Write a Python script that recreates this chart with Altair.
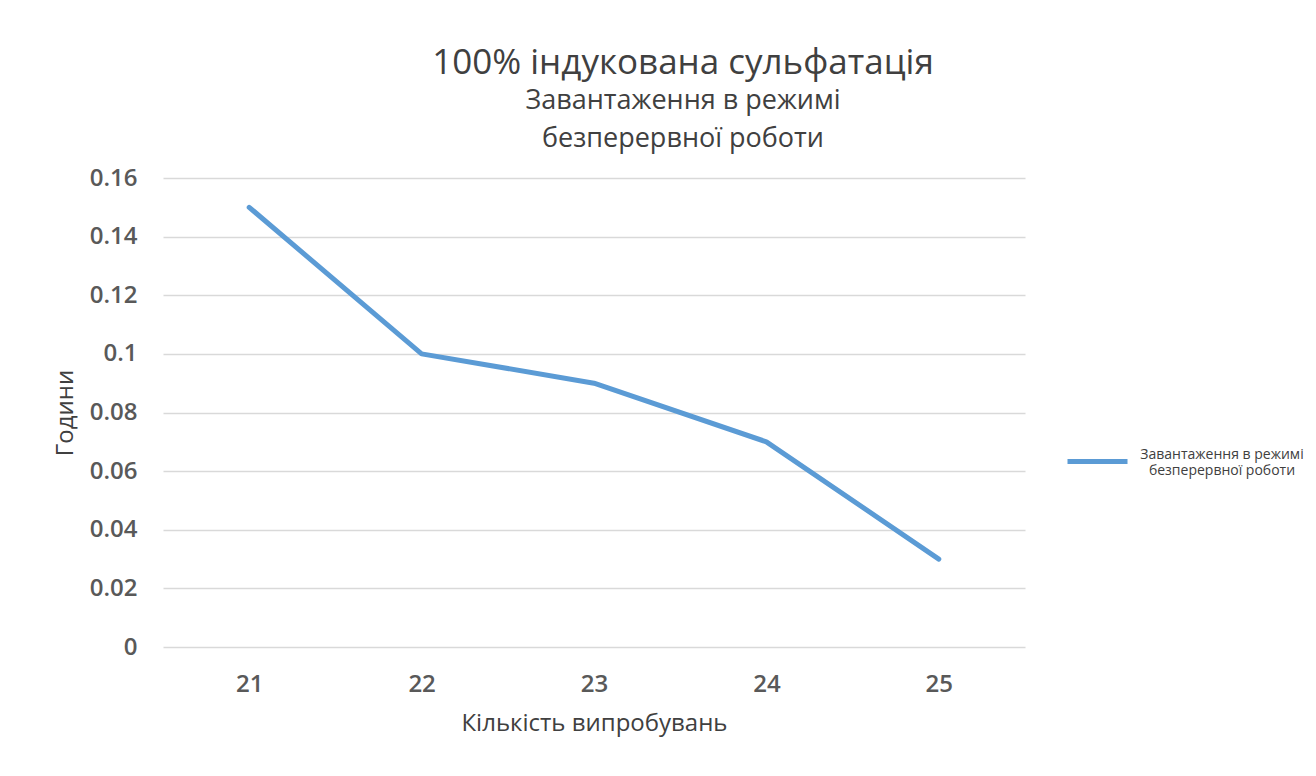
import altair as alt
import pandas as pd

# Test runs vs. hours under continuous-load mode
trials = ["21", "22", "23", "24", "25"]
hours = [0.15, 0.10, 0.09, 0.07, 0.03]
series_name = "Завантаження в режимі безперервної роботи"
y_ticks = [0, 0.02, 0.04, 0.06, 0.08, 0.10, 0.12, 0.14, 0.16]

df = pd.DataFrame({"trial": trials, "hours": hours, "series": [series_name] * len(trials)})

FONT = "Open Sans"
TEXT = "#404040"
TICK = "#595959"

chart = (
    alt.Chart(df)
    .mark_line(strokeWidth=5, strokeCap="round", strokeJoin="round")
    .encode(
        x=alt.X(
            "trial:O",
            sort=trials,
            scale=alt.Scale(type="point", padding=0.5),
            axis=alt.Axis(
                title="Кількість випробувань",
                labelAngle=0,
                labelPadding=25,
                titlePadding=15,
                domain=False,
                ticks=False,
                grid=False,
            ),
        ),
        y=alt.Y(
            "hours:Q",
            scale=alt.Scale(domain=[0, 0.16], nice=False),
            axis=alt.Axis(
                title="Години",
                values=y_ticks,
                format="~g",
                labelPadding=26,
                titlePadding=12,
                domain=False,
                ticks=False,
                gridColor="#d9d9d9",
                gridWidth=1.5,
            ),
        ),
        color=alt.Color(
            "series:N",
            scale=alt.Scale(range=["#5b9bd5"]),
            legend=alt.Legend(
                title=None,
                orient="none",
                legendX=902,
                legendY=251,
                symbolType="stroke",
                symbolSize=3600,
                symbolStrokeWidth=5,
                labelExpr="['Завантаження в режимі', 'безперервної роботи']",
                labelFontSize=14,
                labelColor=TEXT,
                labelFont=FONT,
                labelLimit=300,
                labelAlign="center",
                labelBaseline="bottom",
                labelOffset=92,
            ),
        ),
    )
    .properties(
        width=862,
        height=469,
        padding={"left": 163, "top": 178, "right": 291, "bottom": 129},
        autosize=alt.AutoSizeParams(type="none"),
        title=alt.Title(
            text="100% індукована сульфатація",
            subtitle=["Завантаження в режимі", "безперервної роботи"],
            anchor="middle",
            dx=89,
            offset=14,
            fontSize=35,
            fontWeight="normal",
            color=TEXT,
            font=FONT,
            subtitleFont=FONT,
            subtitleFontSize=27,
            subtitleColor=TEXT,
            subtitleLineHeight=38,
            subtitlePadding=7,
        ),
    )
    .configure_view(stroke=None)
    .configure_axis(
        labelFont=FONT,
        labelFontSize=24,
        labelFontWeight=600,
        labelColor=TICK,
        titleFont=FONT,
        titleFontSize=24,
        titleFontWeight="normal",
        titleColor=TEXT,
    )
)

chart.save("out.html", embed_options={"renderer": "svg", "actions": False})
